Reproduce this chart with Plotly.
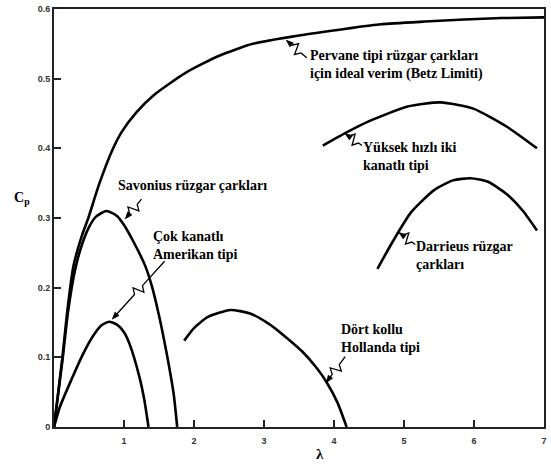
import math
import plotly.graph_objects as go

# ---- data ----
betz_x = [0, 0.12, 0.2, 0.28, 0.4, 0.49, 0.65, 0.845, 0.97, 1.18, 1.42, 1.89, 2.36, 2.84, 3.5, 4.2, 4.67, 5.3, 5.86, 6.4, 7.0]
betz_y = [0, 0.10, 0.175, 0.232, 0.275, 0.30, 0.35, 0.40, 0.424, 0.452, 0.476, 0.509, 0.533, 0.550, 0.562, 0.572, 0.578, 0.582, 0.585, 0.587, 0.588]

savonius_x = [0, 0.12, 0.2, 0.3, 0.4, 0.5, 0.6, 0.75, 0.9, 1.0, 1.13, 1.30, 1.39, 1.50, 1.62, 1.71, 1.76]
savonius_y = [0, 0.095, 0.165, 0.225, 0.262, 0.287, 0.302, 0.310, 0.303, 0.290, 0.267, 0.232, 0.205, 0.160, 0.100, 0.047, 0]

american_x = [0, 0.085, 0.227, 0.416, 0.56, 0.68, 0.786, 0.9, 1.0, 1.08, 1.22, 1.29, 1.35]
american_y = [0, 0.029, 0.063, 0.105, 0.131, 0.146, 0.151, 0.147, 0.136, 0.119, 0.072, 0.039, 0]

dutch_x = [1.86, 2.0, 2.2, 2.52, 2.8, 3.07, 3.3, 3.55, 3.75, 3.89, 4.05, 4.18]
dutch_y = [0.124, 0.142, 0.158, 0.168, 0.163, 0.148, 0.130, 0.108, 0.085, 0.065, 0.035, 0]

twoblade_x = [3.84, 4.2, 4.48, 5.05, 5.52, 5.99, 6.47, 6.9]
twoblade_y = [0.404, 0.424, 0.438, 0.460, 0.466, 0.457, 0.431, 0.400]

darrieus_x = [4.62, 4.85, 5.1, 5.43, 5.7, 5.95, 6.2, 6.47, 6.7, 6.9]
darrieus_y = [0.227, 0.268, 0.308, 0.340, 0.354, 0.357, 0.352, 0.334, 0.310, 0.282]

x_ticks = [1, 2, 3, 4, 5, 6, 7]
y_ticks = [0, 0.1, 0.2, 0.3, 0.4, 0.5, 0.6]
y_ticktext = ["0", "0.1", "0.2", "0.3", "0.4", "0.5", "0.6"]

labels = [
    # text, x, y (data coords of left edge / vertical middle)
    ("Pervane tipi rüzgar çarkları<br>için ideal verim (Betz Limiti)", 3.63, 0.520),
    ("Yüksek hızlı iki<br>kanatlı tipi", 4.39, 0.389),
    ("Darrieus rüzgar<br>çarkları", 5.14, 0.246),
    ("Dört kollu<br>Hollanda tipi", 4.07, 0.127),
    ("Savonius rüzgar çarkları", 0.88, 0.347),
    ("Çok kanatlı<br>Amerikan tipi", 1.38, 0.261),
]

# leader lines: head (x, y) on the curve, tail (x, y) near the text
leaders = [
    (3.32, 0.555, 3.61, 0.530),
    (4.16, 0.421, 4.40, 0.404),
    (4.93, 0.279, 5.16, 0.262),
    (3.89, 0.064, 4.16, 0.101),
    (1.02, 0.299, 1.25, 0.327),
    (0.834, 0.155, 1.58, 0.238),
]

# ---- layout geometry ----
W, H = 551, 472
ML, MR, MT, MB = 54, 4, 6, 45
XR = [0, 7]
YR = [0, 0.6]
px_x = (W - ML - MR) / (XR[1] - XR[0])
px_y = (H - MT - MB) / (YR[1] - YR[0])

fig = go.Figure()
for xs, ys in [(betz_x, betz_y), (savonius_x, savonius_y), (american_x, american_y),
               (dutch_x, dutch_y), (twoblade_x, twoblade_y), (darrieus_x, darrieus_y)]:
    fig.add_trace(go.Scatter(x=xs, y=ys, mode="lines",
                             line=dict(color="black", width=2.6, shape="spline", smoothing=0.6),
                             showlegend=False, hoverinfo="skip"))

serif = "Liberation Serif"
for text, x, y in labels:
    fig.add_annotation(x=x, y=y, xref="x", yref="y",
                       text="<b>" + text.replace("<br>", "</b><br><b>") + "</b>",
                       showarrow=False, xanchor="left", yanchor="middle", align="left",
                       font=dict(family=serif, size=14, color="black"))

# zig-zag leader lines with small arrow heads
for hx, hy, tx, ty in leaders:
    dx = (hx - tx) * px_x
    dy = (hy - ty) * px_y
    L = math.hypot(dx, dy)
    ux, uy = dx / L, dy / L
    nx, ny = -uy, ux
    amp = 5.5

    def pt(along, off):
        px = along * ux + off * nx
        py = along * uy + off * ny
        return tx + px / px_x, ty + py / px_y

    m = L / 2
    pts = [pt(0, 0), pt(m - 6, 0), pt(m - 2, amp), pt(m + 2, -amp), pt(m + 6, 0), pt(L - 3, 0)]
    path = "M " + " L ".join(f"{a},{b}" for a, b in pts)
    fig.add_shape(type="path", path=path, xref="x", yref="y",
                  line=dict(color="black", width=1.3))
    head = [pt(L, 0), pt(L - 7, 2.6), pt(L - 7, -2.6)]
    hpath = "M " + " L ".join(f"{a},{b}" for a, b in head) + " Z"
    fig.add_shape(type="path", path=hpath, xref="x", yref="y",
                  line=dict(color="black", width=0.8), fillcolor="black")

# axis titles (paper coords)
fig.add_annotation(x=(22 - ML) / (W - ML - MR), y=(H - MB - 197) / (H - MT - MB),
                   xref="paper", yref="paper", text="<b>C<sub>p</sub></b>",
                   xanchor="center", yanchor="middle",
                   showarrow=False, font=dict(family=serif, size=14, color="black"))
fig.add_annotation(x=(322 - ML) / (W - ML - MR), y=(H - MB - 454) / (H - MT - MB),
                   xref="paper", yref="paper", text="<b>λ</b>",
                   xanchor="center", yanchor="middle",
                   showarrow=False, font=dict(family=serif, size=15, color="black"))

fig.update_layout(
    width=W, height=H,
    margin=dict(l=ML, r=MR, t=MT, b=MB),
    paper_bgcolor="white", plot_bgcolor="white",
)
tickfont = dict(family="Liberation Sans", size=9, color="#333", weight="bold")
fig.update_xaxes(range=XR, tickvals=x_ticks, ticktext=[str(v) for v in x_ticks],
                 ticks="inside", ticklen=7, tickwidth=2, tickcolor="#222",
                 showline=True, linewidth=2, linecolor="#222", mirror=True,
                 showgrid=False, zeroline=False, ticklabelstandoff=4, tickfont=tickfont)
fig.update_yaxes(range=YR, tickvals=y_ticks, ticktext=y_ticktext,
                 ticks="inside", ticklen=7, tickwidth=2, tickcolor="#222",
                 showline=True, linewidth=2, linecolor="#222", mirror=True,
                 showgrid=False, zeroline=False, tickfont=tickfont)

fig.write_html("out.html", config={"displayModeBar": False},
               post_script="document.body.style.margin='0';")
